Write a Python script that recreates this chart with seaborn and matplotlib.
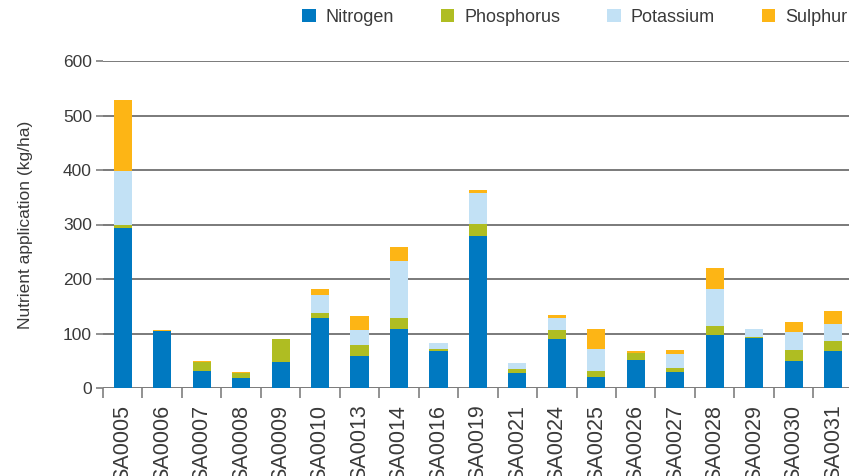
import numpy as np
import pandas as pd
import matplotlib
matplotlib.use("Agg")
import matplotlib.pyplot as plt
from matplotlib.patches import Patch
from matplotlib.ticker import FixedLocator, NullFormatter
import seaborn as sns

sites = ["SA0005", "SA0006", "SA0007", "SA0008", "SA0009", "SA0010", "SA0013",
         "SA0014", "SA0016", "SA0019", "SA0021", "SA0024", "SA0025", "SA0026",
         "SA0027", "SA0028", "SA0029", "SA0030", "SA0031"]
nitrogen   = [294, 105, 32, 19, 48, 129, 59, 109, 68, 279, 28, 90, 21, 52, 30, 98, 92, 50, 67]
phosphorus = [6,   0,   16, 8,  41, 9,   20, 20,  4,  22,  7,  17, 11, 13, 7,  16, 2,  20, 20]
potassium  = [99,  0,   0,  0,  0,  33,  28, 104, 11, 57,  10, 22, 40, 0,  26, 68, 15, 33, 31]
sulphur    = [129, 1,   2,  3,  0,  11,  26, 26,  0,  5,   0,  5,  37, 2,  7,  39, 0,  19, 24]

series_names = ["Nitrogen", "Phosphorus", "Potassium", "Sulphur"]
colors = ["#0079C1", "#AFBD22", "#C2E1F5", "#FDB515"]
y_ticks = [0, 100, 200, 300, 400, 500, 600]

sns.set_theme(style="white")
plt.rcParams["font.family"] = ["Liberation Sans", "DejaVu Sans"]
text_color = "#3a3a3a"

fig = plt.figure(figsize=(8.49, 4.76), dpi=100)
ax = fig.add_axes([103 / 849, 88 / 476, 749.8 / 849, 327 / 476])

values = np.array([nitrogen, phosphorus, potassium, sulphur], dtype=float)
cum = values.cumsum(axis=0)

# draw cumulative totals from the top layer down so lower layers overlay
for i in range(len(series_names) - 1, -1, -1):
    df = pd.DataFrame({"site": sites, "value": cum[i]})
    sns.barplot(data=df, x="site", y="value", color=colors[i], width=0.46,
                saturation=1, ax=ax, zorder=3, linewidth=0, errorbar=None)

ax.set_xlim(-0.5, len(sites) - 0.5)
ax.set_ylim(0, 600)
ax.set_yticks(y_ticks)
ax.set_yticklabels([str(v) for v in y_ticks])
for y in y_ticks:
    ax.axhline(y, color="#7a7a7a", lw=1.4, zorder=1)

for s in ax.spines.values():
    s.set_visible(False)

# x ticks: labels at centres, tick marks at category boundaries
ax.set_xticks(range(len(sites)))
ax.set_xticklabels(sites, rotation=90, fontsize=15.5, color=text_color)
ax.xaxis.set_minor_locator(FixedLocator(np.arange(-0.5, len(sites), 1.0)))
ax.xaxis.set_minor_formatter(NullFormatter())
ax.tick_params(axis="x", which="major", length=0, pad=12)
ax.tick_params(axis="x", which="minor", length=7, width=1.2, color="#7f7f7f",
               bottom=True, direction="out")
ax.tick_params(axis="y", which="major", length=5, width=1.2, color="#7f7f7f",
               left=True, direction="out", pad=3, labelsize=12.5,
               labelcolor=text_color)

ax.set_xlabel("")
ax.set_ylabel("Nutrient application (kg/ha)", fontsize=12.5, color=text_color)
ax.yaxis.set_label_coords(-0.093, 0.5)

handles = [Patch(facecolor=c, edgecolor="none", label=n)
           for n, c in zip(series_names, colors)]
fig.legend(handles=handles, loc="upper left", bbox_to_anchor=(302 / 849, 1 - 9 / 476),
           ncol=4, frameon=False, fontsize=13, handlelength=0.75, handleheight=0.75,
           handletextpad=0.55, columnspacing=2.6, borderpad=0, borderaxespad=0,
           labelcolor=text_color)

fig.savefig("out.png", dpi=100)
